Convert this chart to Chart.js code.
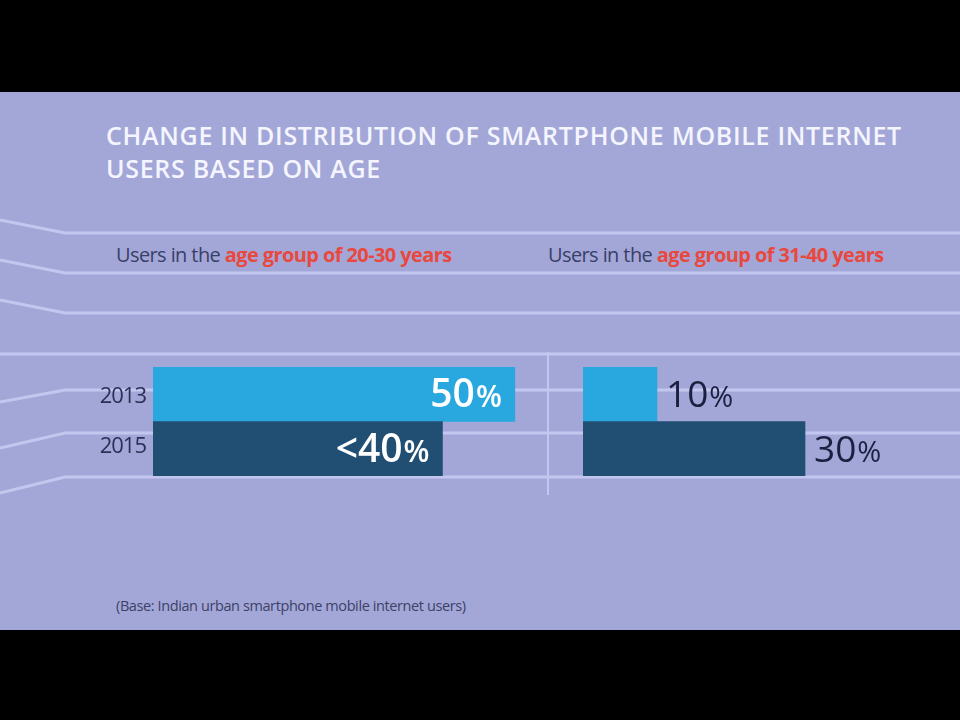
<!DOCTYPE html>
<html>
<head>
<meta charset="utf-8">
<script src="https://cdn.jsdelivr.net/npm/chart.js@4"></script>
<style>
    html, body { margin: 0; padding: 0; background: #000; }
    #stage {
        position: relative;
        width: 960px;
        height: 720px;
        background: #000;
        overflow: hidden;
        font-family: 'Open Sans', sans-serif;
    }
    #panel {
        position: absolute;
        left: 0; top: 92px;
        width: 960px; height: 538px;
        background: #a3a7d7;
    }
    #deco { position: absolute; left: 0; top: 0; }
    .title {
        position: absolute;
        left: 106px; top: 119px;
        color: #f4f5ff;
        font-size: 25px;
        font-weight: 600;
        line-height: 33px;
        letter-spacing: 0.7px;
    }
    .sub {
        position: absolute;
        top: 241px;
        font-size: 20px;
        color: #3a3f68;
        letter-spacing: -0.6px;
    }
    .sub b { color: #e8483e; font-weight: 700; }
    .note {
        position: absolute;
        left: 116px; top: 596px;
        font-size: 14.5px;
        color: #3d4168;
        letter-spacing: -0.4px;
    }
    canvas.bars { position: absolute; }
</style>
</head>
<body>
<div id="stage">
    <div id="panel"></div>
    <svg id="deco" width="960" height="720"></svg>
    <div class="title">CHANGE IN DISTRIBUTION OF SMARTPHONE MOBILE INTERNET<br>USERS BASED ON AGE</div>
    <div class="sub" style="left:116px">Users in the <b>age group of 20-30 years</b></div>
    <div class="sub" style="left:548px">Users in the <b>age group of 31-40 years</b></div>
    <canvas class="bars" id="leftChart" width="471" height="109" style="left:80px; top:367px"></canvas>
    <canvas class="bars" id="rightChart" width="333" height="109" style="left:583px; top:367px"></canvas>
    <div class="note">(Base: Indian urban smartphone mobile internet users)</div>
</div>

<script>
// Data
const years = ['2013', '2015'];
const share20to30 = [50, 40];
const share31to40 = [10, 30];
const labels20to30 = ['50%', '<40%'];
const labels31to40 = ['10%', '30%'];

const colors = {
    light: '#29a8e0',
    dark: '#214e73',
    line: '#c3c7ef',
    yearText: '#2b3056',
    darkText: '#1b1f40'
};

// Background guide lines (decoration only)
const deco = document.getElementById('deco');
const guides = [
    [220, 233], [260, 273], [300, 313], [354, 354],
    [402, 390], [448, 433], [493, 477]
];
guides.forEach(g => {
    const p = document.createElementNS('http://www.w3.org/2000/svg', 'polyline');
    p.setAttribute('points', `0,${g[0]} 65,${g[1]} 960,${g[1]}`);
    p.setAttribute('fill', 'none');
    p.setAttribute('stroke', colors.line);
    p.setAttribute('stroke-width', '3');
    deco.appendChild(p);
});
const divider = document.createElementNS('http://www.w3.org/2000/svg', 'line');
divider.setAttribute('x1', 548); divider.setAttribute('x2', 548);
divider.setAttribute('y1', 352); divider.setAttribute('y2', 495);
divider.setAttribute('stroke', colors.line);
divider.setAttribute('stroke-width', '2');
deco.appendChild(divider);

/**
 * Draws value labels (the % sign smaller than the number)
 * and, optionally, the year labels left of the bars
 */
function barLabels(texts, inside, color, showYears) {
    return {
        id: 'barLabels',
        afterDatasetsDraw(chart) {
            const ctx = chart.ctx;
            const meta = chart.getDatasetMeta(0);
            ctx.save();
            ctx.textBaseline = 'alphabetic';
            meta.data.forEach((bar, i) => {
                const txt = texts[i];
                const num = txt.slice(0, -1);
                const bigFont = inside ? "600 39px 'Open Sans', sans-serif" : "400 37px 'Open Sans', sans-serif";
                const smallFont = inside ? "600 30px 'Open Sans', sans-serif" : "400 29px 'Open Sans', sans-serif";
                ctx.font = bigFont;
                const wNum = ctx.measureText(num).width;
                ctx.font = smallFont;
                const wPct = ctx.measureText('%').width;
                const total = wNum + wPct;
                const x0 = inside ? bar.x - 14 - total : bar.x + 9;
                const y = bar.y + 13;
                ctx.fillStyle = color;
                ctx.font = bigFont;
                ctx.fillText(num, x0, y);
                ctx.font = smallFont;
                ctx.fillText('%', x0 + wNum + 1, y);

                if (showYears) {
                    ctx.fillStyle = colors.yearText;
                    ctx.font = "22px 'Open Sans', sans-serif";
                    ctx.letterSpacing = '-1px';
                    ctx.textAlign = 'right';
                    ctx.fillText(years[i], bar.base - 7, bar.y + (i === 0 ? 9 : 4));
                    ctx.textAlign = 'left';
                    ctx.letterSpacing = '0px';
                }
            });
            ctx.restore();
        }
    };
}

function barOptions(maxValue, leftPad) {
    return {
        indexAxis: 'y',
        responsive: false,
        animation: false,
        layout: { padding: { left: leftPad, right: 0, top: 0, bottom: 0 } },
        plugins: { legend: { display: false }, tooltip: { enabled: false } },
        scales: {
            x: { display: false, min: 0, max: maxValue },
            y: { display: false }
        }
    };
}

function makeChart(id, values, texts, maxValue, leftPad, inside, labelColor) {
    return new Chart(document.getElementById(id), {
        type: 'bar',
        data: {
            labels: years,
            datasets: [{
                data: values,
                backgroundColor: [colors.light, colors.dark],
                borderWidth: 0,
                barPercentage: 1,
                categoryPercentage: 1
            }]
        },
        options: barOptions(maxValue, leftPad),
        plugins: [barLabels(texts, inside, labelColor, leftPad > 0)]
    });
}

makeChart('leftChart', share20to30, labels20to30, 55, 73, true, '#ffffff');
makeChart('rightChart', share31to40, labels31to40, 45, 0, false, colors.darkText);
</script>
</body>
</html>
